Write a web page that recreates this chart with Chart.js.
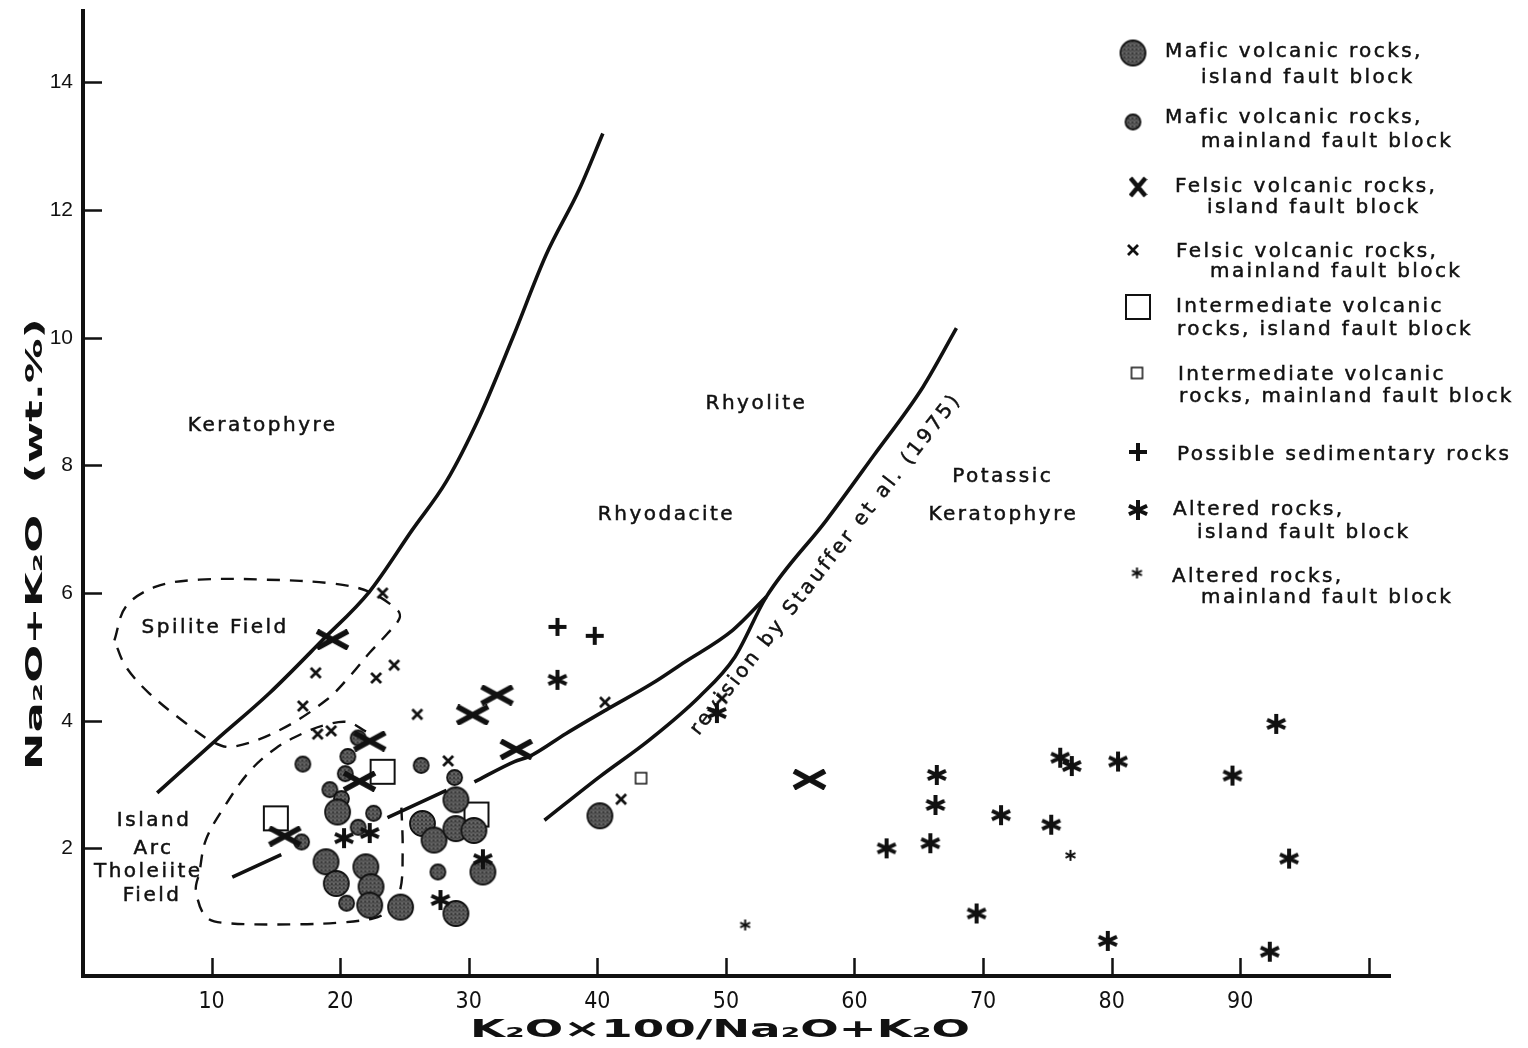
<!DOCTYPE html>
<html>
<head>
<meta charset="utf-8">
<title>Na2O+K2O vs K2O ratio</title>
<script src="https://cdn.jsdelivr.net/npm/chart.js@4.4.0/dist/chart.umd.min.js"></script>
<style>
    html, body { margin: 0; padding: 0; background: #fff; }
    #wrap { width: 1528px; height: 1048px; position: relative; }
</style>
</head>
<body>
<div id="wrap"><canvas id="myChart"></canvas></div>
<script>
// x = K2O*100/(Na2O+K2O), y = Na2O+K2O (wt.%)
let maficIsland = [[29.0,2.76],[19.8,2.57],[26.4,2.39],[27.3,2.13],[29.0,2.31],[30.4,2.28],[18.9,1.79],[22.0,1.71],
    [19.7,1.45],[22.4,1.40],[22.3,1.11],[24.7,1.08],[31.1,1.63],[29.0,0.98],[40.2,2.51]]
let maficMainland = [[17.1,3.32],[20.6,3.44],[20.4,3.17],[19.2,2.92],[20.1,2.78],[22.6,2.55],[21.4,2.33],[26.3,3.30],
    [28.9,3.11],[27.6,1.63],[20.5,1.14],[17.0,2.10],[21.4,3.73]]
let felsicIsland = [[19.4,5.27],[30.3,4.09],[32.2,4.40],[22.3,3.68],[21.5,3.05],[15.7,2.19],[33.7,3.55],[56.5,3.08]]
let felsicMainland = [[23.3,6.0],[18.1,4.75],[17.1,4.23],[22.8,4.67],[24.2,4.87],[18.25,3.79],[19.3,3.84],[26.0,4.10],
    [28.4,3.37],[40.6,4.29],[41.85,2.77],[49.7,4.35]]
let intermediateIsland = [[23.3,3.2],[15.0,2.47],[30.6,2.53]]
let intermediateMainland = [[43.4,3.1]]
let sedimentary = [[36.9,5.47],[39.8,5.33]]
let alteredIsland = [[36.9,4.64],[49.3,4.12],[20.3,2.16],[22.3,2.24],[31.1,1.83],[27.8,1.19],[62.5,2.0],[65.9,2.08],
    [66.3,2.68],[66.4,3.15],[71.4,2.52],[69.5,0.98],[75.3,2.37],[76.0,3.42],[76.9,3.29],[80.5,3.36],[79.7,0.55],
    [89.4,3.14],[92.8,3.95],[93.8,1.84],[92.3,0.38]]
let alteredMainland = [[76.8,1.89],[51.5,0.8]]

// field boundaries (null = break in the line)
let keratophyreLine = [[5.77,2.87],[10.37,3.70],[14.49,4.43],[18.61,5.26],[22.27,6.02],[25.61,6.99],
    [28.26,7.75],[30.83,8.76],[33.42,10.0],[36.02,11.3],[38.61,12.33],[40.43,13.2]]
let rhyodaciteLine = [[11.61,1.55],[15.42,1.90],null,[23.68,2.48],[28.27,2.91],null,[30.44,3.04],[33.56,3.36],
    [34.72,3.44],[37.58,3.80],[40.69,4.17],[44.32,4.59],[46.65,4.90],[50.54,5.42],[53.14,5.94]]
let staufferLine = [[35.89,2.44],[40.17,3.12],[44.06,3.70],[47.96,4.38],[50.7,5.0],[53.14,5.94],
    [57.81,7.14],[61.44,8.14],[65.33,9.23],[67.93,10.15]]
let spiliteField = [[2.44,5.26],[3.34,5.79],[5.67,6.10],[9.04,6.21],[14.23,6.21],[19.42,6.15],[22.27,6.02],
    [24.47,5.73],[24.61,5.60],[23.7,5.37],[22.27,5.06],[20.85,4.72],[18.9,4.32],[15.27,3.85],[11.63,3.59],
    [10.08,3.67],[8.0,3.96],[5.15,4.43],[3.32,4.85],[2.44,5.26]]
let tholeiiteField = [[22.01,3.83],[20.58,3.98],[18.8,3.93],[17.08,3.80],[15.0,3.57],[12.93,3.2],[10.99,2.65],
    [9.55,2.13],[9.04,1.61],[8.78,1.35],[9.55,0.93],[11.12,0.83],[16.82,0.81],[20.19,0.84],[22.53,0.90],
    [23.44,0.98],[24.6,1.30],[24.86,1.92],[24.74,2.76]]

let xTicks = [10, 20, 30, 40, 50, 60, 70, 80, 90, 100]
let yTicks = [2, 4, 6, 8, 10, 12, 14]

let regionLabels = [
    ['Keratophyre', 13.9, 8.62], ['Rhyolite', 52.3, 8.96], ['Rhyodacite', 45.3, 7.22],
    ['Potassic', 71.45, 7.82], ['Keratophyre', 71.5, 7.22], ['Spilite Field', 10.2, 5.45],
    ['Island', 5.45, 2.43], ['Arc', 5.4, 2.0], ['Tholeiite', 5.0, 1.63], ['Field', 5.3, 1.25]
]
let revisionLabel = ['revision by Stauffer et al. (1975)', 57.8, 6.45]

let legendLabels = [
    ['Mafic volcanic rocks,', 'island fault block'],
    ['Mafic volcanic rocks,', 'mainland fault block'],
    ['Felsic volcanic rocks,', 'island fault block'],
    ['Felsic volcanic rocks,', 'mainland fault block'],
    ['Intermediate volcanic', 'rocks, island fault block'],
    ['Intermediate volcanic', 'rocks, mainland fault block'],
    ['Possible sedimentary rocks'],
    ['Altered rocks,', 'island fault block'],
    ['Altered rocks,', 'mainland fault block']
]

let font = "'DejaVu Sans', Verdana, sans-serif"
let ink = '#111'

function Stipple(){
    let c = document.createElement('canvas')
    c.width = 4
    c.height = 4
    let g = c.getContext('2d')
    g.fillStyle = '#5a5a5a'
    g.fillRect(0, 0, 4, 4)
    g.fillStyle = '#1c1c1c'
    let dark = [[0,0],[2,1],[1,2],[3,3],[3,0]]
    dark.forEach(p => g.fillRect(p[0], p[1], 1, 1))
    g.fillStyle = '#a0a0a0'
    let light = [[1,0],[0,3],[2,2]]
    light.forEach(p => g.fillRect(p[0], p[1], 1, 1))
    return c
}
let stipple = Stipple()

function Marker(w, h, paint){
    let c = document.createElement('canvas')
    c.width = w
    c.height = h
    let g = c.getContext('2d')
    g.translate(w / 2, h / 2)
    g.strokeStyle = ink
    g.fillStyle = ink
    paint(g)
    return c
}

function Circle(r){
    return Marker(2 * r + 4, 2 * r + 4, g => {
        g.beginPath()
        g.arc(0, 0, r, 0, Math.PI * 2)
        g.fillStyle = g.createPattern(stipple, 'repeat')
        g.fill()
        g.lineWidth = 1.8
        g.stroke()
    })
}

function Cross(w, h, lw){
    return Marker(w + 4, h + 4, g => {
        g.lineWidth = lw
        g.beginPath()
        g.moveTo(-w / 2, -h / 2)
        g.lineTo(w / 2, h / 2)
        g.moveTo(-w / 2, h / 2)
        g.lineTo(w / 2, -h / 2)
        g.stroke()
    })
}

function Square(s, lw){
    return Marker(s + 4, s + 4, g => {
        g.lineWidth = lw
        g.strokeRect(-s / 2, -s / 2, s, s)
    })
}

function Plus(s, lw){
    return Marker(s + 2, s + 2, g => {
        g.lineWidth = lw
        g.beginPath()
        g.moveTo(-s / 2, 0)
        g.lineTo(s / 2, 0)
        g.moveTo(0, -s / 2)
        g.lineTo(0, s / 2)
        g.stroke()
    })
}

function Asterisk(s, lw){
    return Marker(s + 4, s + 4, g => {
        g.lineWidth = lw
        g.beginPath()
        for (let a of [90, 25, 155]) {
            let dx = Math.cos(a * Math.PI / 180) * s / 2
            let dy = Math.sin(a * Math.PI / 180) * s / 2
            g.moveTo(-dx, -dy)
            g.lineTo(dx, dy)
        }
        g.stroke()
        g.beginPath()
        g.arc(0, 0, lw * 0.8, 0, Math.PI * 2)
        g.fill()
    })
}

let markers = {
    maficIsland: Circle(12.5),
    maficMainland: Circle(7.5),
    felsicIsland: Cross(31, 17, 5.5),
    felsicMainland: Cross(10, 10, 2.8),
    intermediateIsland: Square(24, 2),
    intermediateMainland: Square(11, 1.5),
    sedimentary: Plus(18, 4),
    alteredIsland: Asterisk(20, 4),
    alteredMainland: Asterisk(11, 2)
}
let legendMarkers = [markers.maficIsland, markers.maficMainland, Cross(15, 18, 4.5), markers.felsicMainland,
    markers.intermediateIsland, markers.intermediateMainland, markers.sedimentary, markers.alteredIsland,
    markers.alteredMainland]

function Points(arr){
    return arr.map(p => ({x: p[0], y: p[1]}))
}

function Segments(arr){
    let out = [[]]
    for (let p of arr) {
        if (p === null) out.push([])
        else out[out.length - 1].push({x: p[0], y: p[1]})
    }
    return out
}

function PointSet(arr, style){
    return {data: Points(arr), pointStyle: style, pointRadius: 10, showLine: false}
}

function LineSet(pts, width, dash){
    return {data: pts, showLine: true, pointRadius: 0, borderColor: ink, borderWidth: width,
        borderDash: dash || [], tension: 0.35, fill: false}
}

function CurveSet(pts){
    let set = LineSet(pts, 3.6)
    set.cubicInterpolationMode = 'monotone'
    return set
}

let datasets = [
    PointSet(alteredMainland, markers.alteredMainland),
    PointSet(alteredIsland, markers.alteredIsland),
    PointSet(sedimentary, markers.sedimentary),
    PointSet(felsicMainland, markers.felsicMainland),
    PointSet(felsicIsland, markers.felsicIsland),
    PointSet(maficIsland, markers.maficIsland),
    PointSet(maficMainland, markers.maficMainland),
    PointSet(intermediateMainland, markers.intermediateMainland),
    PointSet(intermediateIsland, markers.intermediateIsland),
    CurveSet(Points(keratophyreLine)),
    CurveSet(Points(staufferLine))
]
Segments(rhyodaciteLine).forEach(s => datasets.push(CurveSet(s)))
datasets.push(LineSet(Points(spiliteField), 2.4, [13, 10]))
datasets.push(LineSet(Points(tholeiiteField), 2.4, [13, 10]))

function Heavy(ctx, text, x, y){
    ctx.fillText(text, x, y)
    ctx.strokeText(text, x, y)
}

function DrawStretched(ctx, text, cx, cy, length, angle, size){
    ctx.save()
    ctx.font = 'bold ' + size + 'px ' + font
    ctx.letterSpacing = '0px'
    let w = ctx.measureText(text).width
    ctx.translate(cx, cy)
    ctx.rotate(angle)
    ctx.scale(length / w, 1)
    ctx.textAlign = 'center'
    ctx.textBaseline = 'middle'
    ctx.fillStyle = ink
    ctx.fillText(text, 0, 0)
    ctx.restore()
}

let annotations = {
    id: 'annotations',
    beforeDatasetsDraw(chart){
        let {ctx, scales: {x, y}} = chart
        ctx.save()
        ctx.fillStyle = ink
        ctx.strokeStyle = ink
        ctx.lineWidth = 0.5
        ctx.font = '20px ' + font
        ctx.letterSpacing = '2.5px'
        ctx.textAlign = 'center'
        ctx.textBaseline = 'middle'
        regionLabels.forEach(l => Heavy(ctx, l[0], x.getPixelForValue(l[1]) + 1, y.getPixelForValue(l[2])))

        ctx.letterSpacing = '3px'
        ctx.translate(x.getPixelForValue(revisionLabel[1]), y.getPixelForValue(revisionLabel[2]))
        ctx.rotate(-52 * Math.PI / 180)
        Heavy(ctx, revisionLabel[0], 0, 0)
        ctx.restore()
    },
    afterDraw(chart){
        let {ctx, scales: {x, y}, chartArea} = chart
        ctx.save()
        ctx.strokeStyle = ink
        ctx.lineWidth = 2.5
        ctx.beginPath()
        xTicks.forEach(v => {
            let px = Math.round(x.getPixelForValue(v)) + 0.5
            ctx.moveTo(px, chartArea.bottom)
            ctx.lineTo(px, chartArea.bottom - 18)
        })
        yTicks.forEach(v => {
            let py = Math.round(y.getPixelForValue(v)) + 0.5
            ctx.moveTo(chartArea.left, py)
            ctx.lineTo(chartArea.left + 19, py)
        })
        ctx.stroke()
        ctx.restore()

        DrawStretched(ctx, 'Na\u2082O+K\u2082O  (wt.%)', 36, 544, 452, -Math.PI / 2, 23)
        DrawStretched(ctx, 'K\u2082O\u00d7100/Na\u2082O+K\u2082O', 720, 1030, 500, 0, 25)

        // legend block on the right
        let rows = [
            [53, 1133, 57, 1165, 83, 1201],
            [122, 1133, 123, 1165, 147, 1201],
            [187, 1138, 192, 1175, 213, 1207],
            [250, 1133, 257, 1176, 277, 1210],
            [307, 1138, 312, 1176, 335, 1177],
            [373, 1137, 380, 1178, 402, 1179],
            [452, 1138, 460, 1177],
            [510, 1138, 515, 1173, 538, 1197],
            [573, 1137, 582, 1172, 603, 1201]
        ]
        ctx.save()
        ctx.fillStyle = ink
        ctx.strokeStyle = ink
        ctx.lineWidth = 0.5
        ctx.font = '20px ' + font
        ctx.letterSpacing = '2.4px'
        ctx.textAlign = 'left'
        ctx.textBaseline = 'alphabetic'
        rows.forEach((r, i) => {
            let m = legendMarkers[i]
            ctx.drawImage(m, r[1] - m.width / 2, r[0] - m.height / 2)
            Heavy(ctx, legendLabels[i][0], r[3], r[2])
            if (legendLabels[i][1]) Heavy(ctx, legendLabels[i][1], r[5], r[4])
        })
        ctx.restore()
    }
}

let chart = new Chart('myChart', {
    type: 'scatter',
    data: {datasets: datasets},
    options: {
        responsive: true,
        maintainAspectRatio: false,
        animation: false,
        events: [],
        layout: {padding: {top: 11, right: 138, bottom: 0, left: 0}},
        plugins: {
            legend: {display: false},
            tooltip: {enabled: false},
            title: {display: false}
        },
        scales: {
            x: {
                type: 'linear',
                min: 0,
                max: 101.65,
                afterFit: s => { s.height = 72 },
                afterBuildTicks: s => { s.ticks = xTicks.map(v => ({value: v})) },
                grid: {display: false, drawTicks: false},
                border: {display: true, color: ink, width: 4},
                ticks: {
                    padding: 12,
                    color: ink,
                    maxRotation: 0,
                    autoSkip: false,
                    font: {family: "'Liberation Sans Narrow', 'DejaVu Sans Condensed', 'Liberation Sans', sans-serif", size: 23},
                    callback: v => v < 100 ? v : ''
                }
            },
            y: {
                type: 'linear',
                min: 0,
                max: 15.12,
                afterFit: s => {
                    s.width = 83
                    s.paddingTop = 0
                    s.paddingBottom = 0
                },
                afterBuildTicks: s => { s.ticks = yTicks.map(v => ({value: v})) },
                grid: {display: false, drawTicks: false},
                border: {display: true, color: ink, width: 4},
                ticks: {
                    padding: 10,
                    color: ink,
                    autoSkip: false,
                    font: {family: "'Liberation Sans', Arial, sans-serif", size: 21},
                    callback: v => v
                }
            }
        }
    },
    plugins: [annotations]
})
</script>
</body>
</html>
